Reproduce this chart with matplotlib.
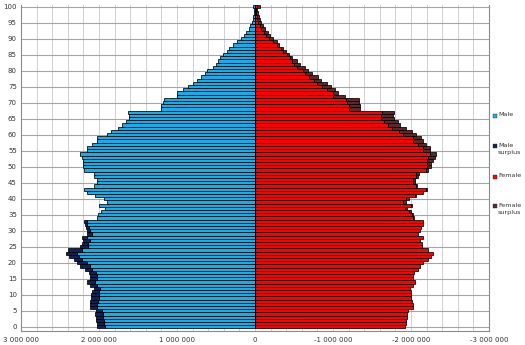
import matplotlib
matplotlib.use("Agg")
import matplotlib.pyplot as plt
from matplotlib.patches import Rectangle
from matplotlib.ticker import FuncFormatter, MultipleLocator
import numpy as np

# DATI (milioni di persone per eta' singola 0..100)
ages = np.arange(0, 101)
male = [2.03, 2.02, 2.04, 2.04, 2.05, 2.04, 2.12, 2.12, 2.11, 2.10,
        2.10, 2.09, 2.06, 2.12, 2.16, 2.12, 2.12, 2.13, 2.18, 2.24,
        2.28, 2.32, 2.38, 2.42, 2.40, 2.25, 2.22, 2.21, 2.22, 2.15,
        2.15, 2.17, 2.18, 2.19, 2.03, 2.01, 1.98, 1.92, 2.00, 1.90,
        1.94, 2.05, 2.16, 2.19, 2.06, 2.02, 2.03, 2.06, 2.06, 2.19,
        2.20, 2.20, 2.21, 2.22, 2.24, 2.15, 2.15, 2.09, 2.03, 2.02,
        1.90, 1.84, 1.76, 1.70, 1.66, 1.61, 1.61, 1.63, 1.20, 1.20,
        1.18, 1.17, 1.00, 1.00, 0.92, 0.86, 0.80, 0.75, 0.69, 0.64,
        0.61, 0.54, 0.50, 0.47, 0.45, 0.41, 0.36, 0.33, 0.28, 0.23,
        0.18, 0.14, 0.11, 0.08, 0.06, 0.04, 0.03, 0.02, 0.015, 0.01,
        0.02]
female = [1.92, 1.93, 1.94, 1.95, 1.95, 1.96, 2.02, 2.02, 2.01, 2.00,
          2.00, 2.00, 1.99, 2.03, 2.05, 2.03, 2.03, 2.04, 2.09, 2.12,
          2.16, 2.22, 2.26, 2.28, 2.22, 2.14, 2.14, 2.12, 2.15, 2.09,
          2.12, 2.13, 2.15, 2.16, 2.04, 2.02, 2.00, 1.95, 2.01, 1.94,
          1.97, 2.06, 2.16, 2.21, 2.08, 2.05, 2.05, 2.09, 2.10, 2.22,
          2.26, 2.26, 2.28, 2.31, 2.32, 2.24, 2.24, 2.19, 2.15, 2.13,
          2.06, 2.01, 1.94, 1.86, 1.83, 1.78, 1.77, 1.78, 1.35, 1.34,
          1.33, 1.33, 1.16, 1.07, 1.02, 0.97, 0.92, 0.85, 0.81, 0.73,
          0.68, 0.64, 0.58, 0.54, 0.48, 0.44, 0.40, 0.36, 0.31, 0.28,
          0.23, 0.19, 0.17, 0.13, 0.10, 0.08, 0.06, 0.05, 0.04, 0.03,
          0.06]
legend_labels = ["Male", "Male\nsurplus", "Female", "Female\nsurplus"]

C_MALE = "#16aee8"
C_MALE_SUR = "#0f2258"
C_FEMALE = "#ff0000"
C_FEMALE_SUR = "#5c2828"

m = np.array(male) * 1e6
f = np.array(female) * 1e6
base = np.minimum(m, f)
m_sur = m - base
f_sur = f - base

W, H = 525, 345
fig = plt.figure(figsize=(W / 100, H / 100), dpi=100)
ax = fig.add_axes([21 / W, 1 - 331 / H, (489 - 21) / W, (331 - 5) / H])

bar_kw = dict(height=1.0, edgecolor="black", linewidth=0.55, zorder=3)

# LATO MASCHI (valori positivi, asse invertito)
ax.barh(ages, base, color=C_MALE, **bar_kw)
sel = m_sur > 0
ax.barh(ages[sel], m_sur[sel], left=base[sel], color=C_MALE_SUR, **bar_kw)

# LATO FEMMINE (valori negativi)
ax.barh(ages, -base, color=C_FEMALE, **bar_kw)
sel = f_sur > 0
ax.barh(ages[sel], -f_sur[sel], left=-base[sel], color=C_FEMALE_SUR, **bar_kw)

ax.set_xlim(3e6, -3e6)
ax.set_ylim(-1.3, 100.5)
ax.xaxis.set_major_locator(MultipleLocator(1e6))
ax.xaxis.set_minor_locator(MultipleLocator(2e5))
ax.yaxis.set_major_locator(MultipleLocator(5))
ax.xaxis.set_major_formatter(FuncFormatter(lambda v, p: f"{v:,.0f}".replace(",", " ")))

ax.grid(which="both", axis="x", color="#cfcfcf", linewidth=0.7, zorder=0)
ax.grid(which="major", axis="y", color="#a4a4a4", linewidth=0.8, zorder=0)
ax.tick_params(which="both", length=0, labelsize=5, colors="#333333")
ax.tick_params(axis="x", pad=4)
ax.tick_params(axis="y", pad=3)
for s in ["left", "bottom", "right"]:
    ax.spines[s].set_color("#8a8a8a")
    ax.spines[s].set_linewidth(0.8)
ax.spines["top"].set_visible(False)

# LEGENDA MANUALE
leg_y = [116, 146.5, 176.5, 206.5]
leg_c = [C_MALE, C_MALE_SUR, C_FEMALE, C_FEMALE_SUR]
for y, c, lab in zip(leg_y, leg_c, legend_labels):
    fig.add_artist(Rectangle((492.5 / W, 1 - (y + 2) / H), 4 / W, 4 / H,
                             transform=fig.transFigure, facecolor=c,
                             edgecolor="#333333", linewidth=0.3))
    fig.text(498 / W, 1 - (y - 3.5) / H, lab, fontsize=4.6, color="#333333",
             va="top", ha="left", linespacing=1.6,
             transform=fig.transFigure)

fig.savefig("out.png", dpi=100)
